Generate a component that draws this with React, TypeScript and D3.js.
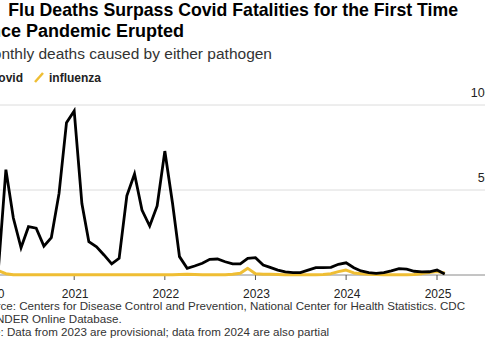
import React from "react";
import * as d3 from "d3";

const months: string[] = [];
for (let y = 2020; y <= 2025; y++) {
  for (let m = 1; m <= 12; m++) {
    if (y === 2025 && m > 2) break;
    months.push(`${y}-${String(m).padStart(2, "0")}-01`);
  }
}

// thousands of deaths per month
const covidValues = [
  0, 0, 2, 62, 33.5, 16, 28.4, 27.5, 17, 22, 48, 89.6,
  96.5, 42, 19.6, 16.6, 11.8, 6.5, 9.8, 46.6, 59.4, 38.2, 28.8, 40.6,
  72.9, 42.2, 10.8, 3.9, 5.3, 6.9, 9.2, 9.4, 7.8, 6.5, 6.5, 9.8,
  10.2, 5.9, 4.5, 2.9, 1.8, 1.4, 1.4, 2.9, 4.3, 4.3, 4.5, 6.3,
  7.2, 4.3, 2.4, 1.4, 1.0, 1.4, 2.4, 3.7, 3.4, 2.2, 1.8, 1.9,
  2.9, 0.6,
];

const fluValues = [
  2.5, 2.8, 2.5, 0.8, 0.2, 0.1, 0.1, 0.1, 0.1, 0.1, 0.1, 0.1,
  0.1, 0.1, 0.1, 0.1, 0.1, 0.1, 0.1, 0.1, 0.1, 0.1, 0.1, 0.1,
  0.2, 0.2, 0.3, 0.4, 0.3, 0.2, 0.1, 0.1, 0.2, 0.4, 1.0, 3.9,
  0.8, 0.5, 0.4, 0.3, 0.2, 0.1, 0.1, 0.1, 0.1, 0.3, 0.8, 2.0,
  2.9, 1.2, 0.8, 0.5, 0.3, 0.2, 0.1, 0.1, 0.2, 0.3, 0.8, 1.5,
  2.0, 1.2,
];

const yTicks = [0, 50, 100];
const yTickLabels = ["", "50K", "100K"];
const xTickYears = [2020, 2021, 2022, 2023, 2024, 2025];

const titlePrefix = "U.S.";
const titleLine1 = "Flu Deaths Surpass Covid Fatalities for the First Time";
const titleLine2 = "Since Pandemic Erupted";
const subtitle = "Monthly deaths caused by either pathogen";
const legendLabels = ["Covid", "influenza"];
const footerLines = [
  "Source: Centers for Disease Control and Prevention, National Center for Health Statistics. CDC",
  "WONDER Online Database.",
  "Note: Data from 2023 are provisional; data from 2024 are also partial",
];

const FONT = "'Liberation Sans', Arial, sans-serif";
const COVID = "#000000";
const FLU = "#efbe34";

export default function App() {
  const W = 485;
  const H = 360;
  const parse = d3.timeParse("%Y-%m-%d");
  const dates = months.map((m) => parse(m) as Date);

  const x = d3
    .scaleTime()
    .domain([new Date(2020, 0, 1), new Date(2025, 0, 1)])
    .range([-16.7, 437]);
  const y = d3.scaleLinear().domain([0, 100]).range([275, 105]);

  const covidData = dates.map((d, i) => ({ d, v: covidValues[i] }));
  const fluData = dates.map((d, i) => ({ d, v: fluValues[i] }));
  const line = d3
    .line<{ d: Date; v: number }>()
    .x((p) => x(p.d))
    .y((p) => y(p.v));

  return (
    <svg
      width={W}
      height={H}
      style={{ position: "absolute", left: 0, top: 0, background: "#fff" }}
      fontFamily={FONT}
    >
      <rect x={0} y={0} width={W} height={H} fill="#fff" />
      {/* Title */}
      <text x={458} y={16} textAnchor="end" fontSize={17.7} fontWeight="bold" fill="#000">
        <tspan>{titlePrefix}</tspan>
        <tspan dx={6}>{" " + titleLine1}</tspan>
      </text>
      <text x={-27} y={37} fontSize={18} fontWeight="bold" fill="#000">
        {titleLine2}
      </text>
      <text x={272} y={59} textAnchor="end" fontSize={15.5} fill="#333">
        {subtitle}
      </text>
      {/* Legend */}
      <line x1={-22} y1={82} x2={-14} y2={73} stroke={COVID} strokeWidth={2.5} />
      <text x={23} y={81.5} textAnchor="end" fontSize={12} fontWeight="bold" fill="#222">
        {legendLabels[0]}
      </text>
      <line x1={35} y1={82} x2={43} y2={73} stroke={FLU} strokeWidth={2.5} />
      <text x={101} y={81.5} textAnchor="end" fontSize={12} fontWeight="bold" fill="#222">
        {legendLabels[1]}
      </text>

      {/* Gridlines */}
      {yTicks.slice(1).map((t) => (
        <line key={t} x1={-30} x2={W + 20} y1={y(t)} y2={y(t)} stroke="#dcdcdc" strokeWidth={1} />
      ))}
      {yTicks.map((t, i) =>
        yTickLabels[i] ? (
          <text key={"l" + t} x={500} y={y(t) - 8} textAnchor="end" fontSize={12.5} fill="#222">
            {yTickLabels[i]}
          </text>
        ) : null
      )}

      {/* X axis */}
      <line x1={-30} x2={W + 20} y1={y(0)} y2={y(0)} stroke="#8a8a8a" strokeWidth={1} />
      {xTickYears.map((yr, i) => {
        const px = x(new Date(yr, 0, 1));
        return (
          <g key={yr}>
            <line x1={px} x2={px} y1={y(0)} y2={y(0) + 5} stroke="#555" strokeWidth={1} />
            <text
              x={i === 0 ? 4.5 : px + 1}
              y={297.5}
              textAnchor={i === 0 ? "end" : "middle"}
              fontSize={12}
              fill="#222"
            >
              {yr}
            </text>
          </g>
        );
      })}

      {/* Lines */}
      <path d={line(fluData) || ""} fill="none" stroke={FLU} strokeWidth={3} strokeLinejoin="round" />
      <path d={line(covidData) || ""} fill="none" stroke={COVID} strokeWidth={2.8} />

      {/* Footer */}
      {footerLines.map((t, i) => (
        <text key={i} x={-24} y={310 + i * 13} fontSize={11.6} fill="#333">
          {t}
        </text>
      ))}
    </svg>
  );
}
